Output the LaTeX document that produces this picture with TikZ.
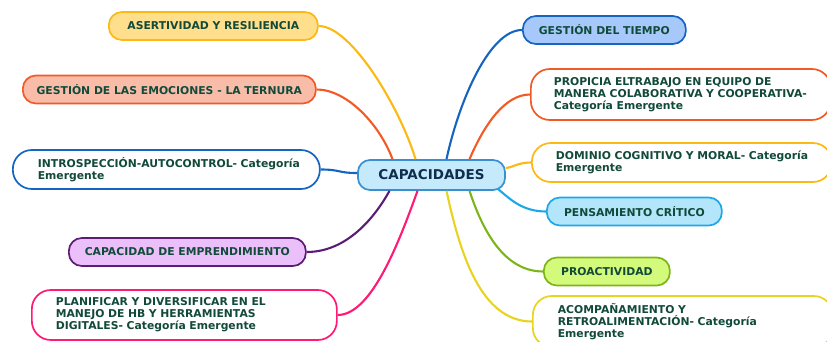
\documentclass[tikz,border=0pt]{standalone}
\usepackage{fontspec}
\setmainfont{DejaVu Sans}
\usepackage{tikz}
\usetikzlibrary{positioning,calc}
\definecolor{leaftext}{RGB}{18,74,58}
\definecolor{hubtext}{RGB}{17,45,78}
\definecolor{hubfill}{RGB}{197,234,251}
\definecolor{hubline}{RGB}{58,143,208}
\definecolor{amber}{RGB}{253,185,19}
\definecolor{amberfill}{RGB}{255,223,140}
\definecolor{tangerine}{RGB}{241,90,36}
\definecolor{salmon}{RGB}{248,188,169}
\definecolor{royal}{RGB}{21,101,192}
\definecolor{skyfill}{RGB}{166,200,250}
\definecolor{plum}{RGB}{91,28,118}
\definecolor{lilac}{RGB}{235,191,250}
\definecolor{magenta}{RGB}{255,26,117}
\definecolor{cyanline}{RGB}{27,168,232}
\definecolor{cyanfill}{RGB}{179,230,250}
\definecolor{lime}{RGB}{124,181,24}
\definecolor{limefill}{RGB}{211,250,122}
\definecolor{lemon}{RGB}{232,212,30}

\begin{document}
\begin{tikzpicture}[
  x=1pt, y=-1pt,
  font=\fontsize{10.8}{12}\selectfont\bfseries,
  hub/.style={draw=hubline, fill=hubfill, line width=1.7pt, rounded corners=12pt,
              minimum width=147pt, minimum height=30pt, text=hubtext,
              font=\fontsize{13.5}{15}\selectfont\bfseries},
  pill/.style={draw=#1, line width=1.7pt, rounded corners=13pt,
               minimum height=28pt, text=leaftext, anchor=west},
  card/.style={draw=#1, fill=white, line width=1.7pt, rounded corners=19pt,
               align=left, inner xsep=24pt, text=leaftext, anchor=west},
  link/.style={draw=#1, line width=2.1pt},
]
\useasboundingbox (0,0) rectangle (827,342);

%====================== CENTRE ======================
\node[hub] (hub) at (431.5,175) {CAPACIDADES};

%====================== LEFT BRANCHES ======================
\node[pill=amber, fill=amberfill, minimum width=209pt] (asert) at (108,26) {ASERTIVIDAD Y RESILIENCIA};
\node[pill=tangerine, fill=salmon, minimum width=293pt] (emoc) at (22,89.5) {GESTIÓN DE LAS EMOCIONES - LA TERNURA};
\node[card=royal, text width=257pt, minimum height=39pt, inner xsep=25pt] (intro) at (12,169.5)
     {\mbox{INTROSPECCIÓN-AUTOCONTROL- Categoría}\\Emergente};
\node[pill=plum, fill=lilac, minimum width=237pt] (empr) at (68,252) {CAPACIDAD DE EMPRENDIMIENTO};
\node[card=magenta, text width=257pt, minimum height=50pt] (plan) at (31,315)
     {PLANIFICAR Y DIVERSIFICAR EN EL\\MANEJO DE HB Y HERRAMIENTAS\\DIGITALES- Categoría Emergente};

%====================== RIGHT BRANCHES ======================
\node[pill=royal, fill=skyfill, minimum width=163pt] (tiempo) at (522,30) {GESTIÓN DEL TIEMPO};
\node[card=tangerine, text width=254pt, minimum height=51pt, inner xsep=23pt] (equipo) at (530,94.5)
     {PROPICIA ELTRABAJO EN EQUIPO DE\\\mbox{MANERA COLABORATIVA Y COOPERATIVA-}\\Categoría Emergente};
\node[card=amber, text width=252pt, minimum height=39pt] (dominio) at (531,162.5)
     {\mbox{DOMINIO COGNITIVO Y MORAL- Categoría}\\Emergente};
\node[pill=cyanline, fill=cyanfill, minimum width=175pt] (critico) at (546,211.5) {PENSAMIENTO CRÍTICO};
\node[pill=lime, fill=limefill, minimum width=126pt] (proact) at (543,271.5) {PROACTIVIDAD};
\node[card=lemon, text width=250pt, minimum height=51pt, inner xsep=25pt] (acomp) at (532,321.5)
     {ACOMPAÑAMIENTO Y\\RETROALIMENTACIÓN- Categoría\\Emergente};

%====================== CONNECTORS ======================
\draw[link=amber]     (asert.east)   .. controls +(33,0) and +(-15,-50) .. ([xshift=-16pt]hub.north);
\draw[link=tangerine] (emoc.east)    .. controls +(30,0) and +(-13,-35) .. ([xshift=-39pt]hub.north);
\draw[link=royal]     (intro.east)   .. controls +(20,0) and +(-20,0)   .. ([yshift=2pt]hub.west);
\draw[link=plum]      (empr.east)    .. controls +(40,0) and +(-15,27)  .. ([xshift=-42pt]hub.south);
\draw[link=magenta]   (plan.east)    .. controls +(34,0) and +(-18,50)  .. ([xshift=-14pt]hub.south);
\draw[link=royal]     (tiempo.west)  .. controls +(-32,0) and +(13,-60) .. ([xshift=15pt]hub.north);
\draw[link=tangerine] (equipo.west)  .. controls +(-25,0) and +(15,-35) .. ([xshift=38pt]hub.north);
\draw[link=amber]     (dominio.west) .. controls +(-14,0) and +(6,0)    .. ([yshift=7pt]hub.east);
\draw[link=cyanline]  (critico.west) .. controls +(-24,0) and +(12,10)  .. ([xshift=-8pt,yshift=2pt]hub.south east);
\draw[link=lime]      (proact.west)  .. controls +(-43,0) and +(10,30)  .. ([xshift=38pt]hub.south);
\draw[link=lemon]     (acomp.west)   .. controls +(-52,0) and +(13,60)  .. ([xshift=15pt]hub.south);
\end{tikzpicture}
\end{document}
